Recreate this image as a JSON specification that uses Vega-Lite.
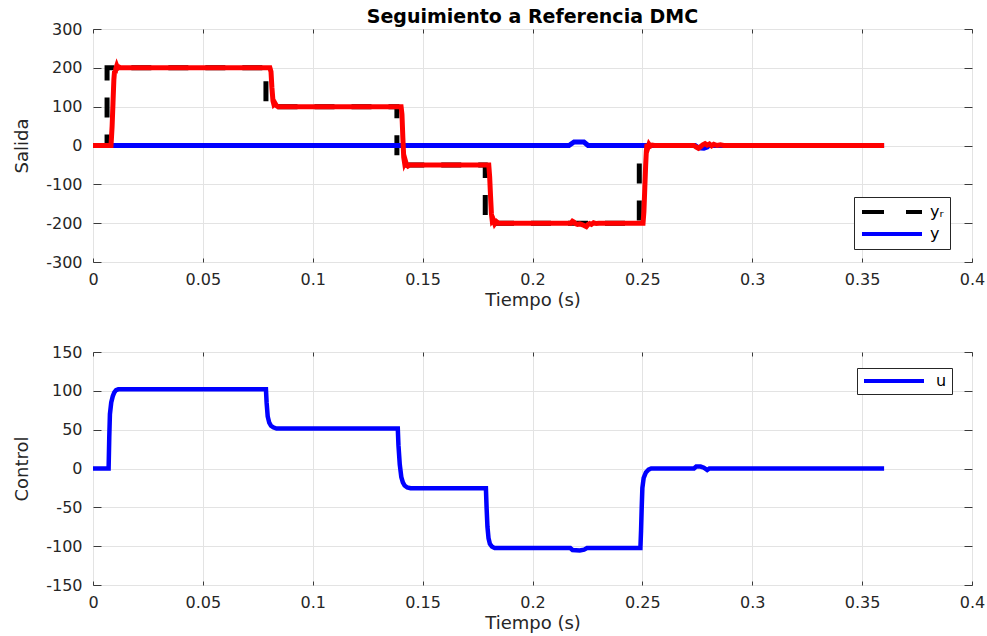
{
  "$schema": "https://vega.github.io/schema/vega-lite/v6.json",
  "background": "white",
  "padding": {"left": 13, "top": 7, "right": 5, "bottom": 5},
  "bounds": "flush",
  "spacing": 90,
  "resolve": {"scale": {"color": "independent"}, "legend": {"color": "independent"}},
  "config": {
    "font": "DejaVu Sans",
    "view": {"stroke": "#3a3a3a", "strokeWidth": 1},
    "axis": {
      "labelFont": "DejaVu Sans", "labelFontSize": 16, "labelColor": "#262626",
      "titleFont": "DejaVu Sans", "titleFontSize": 18, "titleFontWeight": "normal", "titleColor": "#262626",
      "gridColor": "#e3e3e3", "gridWidth": 1, "domain": false, "labelFlush": false,
      "tickColor": "#3a3a3a", "tickWidth": 1
    }
  },
  "datasets": {
    "salida": [
      {"t": 0, "v": 0, "s": "yr"}, {"t": 0.0064, "v": 0, "s": "yr"}, {"t": 0.0064, "v": 200, "s": "yr"},
      {"t": 0.0787, "v": 200, "s": "yr"}, {"t": 0.0787, "v": 100, "s": "yr"},
      {"t": 0.1383, "v": 100, "s": "yr"}, {"t": 0.1383, "v": -50, "s": "yr"},
      {"t": 0.1785, "v": -50, "s": "yr"}, {"t": 0.1785, "v": -200, "s": "yr"},
      {"t": 0.2486, "v": -200, "s": "yr"}, {"t": 0.2486, "v": 0, "s": "yr"}, {"t": 0.36, "v": 0, "s": "yr"},

      {"t": 0, "v": 0, "s": "y"}, {"t": 0.2166, "v": 0, "s": "y"}, {"t": 0.2189, "v": 9, "s": "y"},
      {"t": 0.2234, "v": 9, "s": "y"}, {"t": 0.2253, "v": 0, "s": "y"}, {"t": 0.274, "v": 0, "s": "y"},
      {"t": 0.2755, "v": -6, "s": "y"}, {"t": 0.278, "v": -7, "s": "y"}, {"t": 0.2795, "v": -4, "s": "y"},
      {"t": 0.2803, "v": 0, "s": "y"}, {"t": 0.36, "v": 0, "s": "y"},

      {"t": 0, "v": 0, "s": "ym"}, {"t": 0.0082, "v": 0, "s": "ym"}, {"t": 0.0087, "v": 50, "s": "ym"},
      {"t": 0.0091, "v": 110, "s": "ym"}, {"t": 0.0095, "v": 170, "s": "ym"}, {"t": 0.0098, "v": 192, "s": "ym"},
      {"t": 0.0101, "v": 186, "s": "ym"}, {"t": 0.0104, "v": 198, "s": "ym"}, {"t": 0.0108, "v": 205, "s": "ym"},
      {"t": 0.0112, "v": 199, "s": "ym"}, {"t": 0.0118, "v": 202, "s": "ym"}, {"t": 0.0125, "v": 200, "s": "ym"},
      {"t": 0.0805, "v": 200, "s": "ym"}, {"t": 0.081, "v": 190, "s": "ym"}, {"t": 0.0814, "v": 150, "s": "ym"},
      {"t": 0.0819, "v": 115, "s": "ym"}, {"t": 0.0823, "v": 106, "s": "ym"}, {"t": 0.0828, "v": 109, "s": "ym"},
      {"t": 0.0834, "v": 103, "s": "ym"}, {"t": 0.0842, "v": 100, "s": "ym"},
      {"t": 0.1402, "v": 100, "s": "ym"}, {"t": 0.1406, "v": 80, "s": "ym"}, {"t": 0.141, "v": 20, "s": "ym"},
      {"t": 0.1414, "v": -30, "s": "ym"}, {"t": 0.1418, "v": -45, "s": "ym"}, {"t": 0.1422, "v": -40, "s": "ym"},
      {"t": 0.1427, "v": -50, "s": "ym"}, {"t": 0.1433, "v": -53, "s": "ym"}, {"t": 0.1442, "v": -50, "s": "ym"},
      {"t": 0.1801, "v": -50, "s": "ym"}, {"t": 0.1805, "v": -80, "s": "ym"}, {"t": 0.1809, "v": -130, "s": "ym"},
      {"t": 0.1813, "v": -175, "s": "ym"}, {"t": 0.1817, "v": -195, "s": "ym"}, {"t": 0.1822, "v": -192, "s": "ym"},
      {"t": 0.1828, "v": -202, "s": "ym"}, {"t": 0.1836, "v": -196, "s": "ym"}, {"t": 0.1845, "v": -200, "s": "ym"},
      {"t": 0.2175, "v": -200, "s": "ym"}, {"t": 0.2182, "v": -195, "s": "ym"}, {"t": 0.2188, "v": -197, "s": "ym"},
      {"t": 0.2195, "v": -201, "s": "ym"}, {"t": 0.2205, "v": -203, "s": "ym"}, {"t": 0.2215, "v": -202, "s": "ym"},
      {"t": 0.2225, "v": -204, "s": "ym"}, {"t": 0.2235, "v": -206, "s": "ym"}, {"t": 0.2245, "v": -209, "s": "ym"},
      {"t": 0.2252, "v": -204, "s": "ym"}, {"t": 0.226, "v": -201, "s": "ym"}, {"t": 0.2268, "v": -203, "s": "ym"},
      {"t": 0.2278, "v": -199, "s": "ym"}, {"t": 0.229, "v": -201, "s": "ym"}, {"t": 0.2302, "v": -200, "s": "ym"},
      {"t": 0.2503, "v": -200, "s": "ym"}, {"t": 0.2507, "v": -170, "s": "ym"}, {"t": 0.2511, "v": -110, "s": "ym"},
      {"t": 0.2515, "v": -50, "s": "ym"}, {"t": 0.2518, "v": -15, "s": "ym"}, {"t": 0.2521, "v": 4, "s": "ym"},
      {"t": 0.2525, "v": -6, "s": "ym"}, {"t": 0.253, "v": 3, "s": "ym"}, {"t": 0.2536, "v": -2, "s": "ym"},
      {"t": 0.2545, "v": 1, "s": "ym"}, {"t": 0.2555, "v": 0, "s": "ym"}, {"t": 0.2735, "v": 0, "s": "ym"},
      {"t": 0.2745, "v": -4, "s": "ym"}, {"t": 0.2755, "v": -7, "s": "ym"}, {"t": 0.2765, "v": -3, "s": "ym"},
      {"t": 0.2775, "v": 2, "s": "ym"}, {"t": 0.2785, "v": 5, "s": "ym"}, {"t": 0.2795, "v": 1, "s": "ym"},
      {"t": 0.2805, "v": 4, "s": "ym"}, {"t": 0.2815, "v": -1, "s": "ym"}, {"t": 0.2825, "v": 3, "s": "ym"},
      {"t": 0.284, "v": 0, "s": "ym"}, {"t": 0.2855, "v": 2, "s": "ym"}, {"t": 0.287, "v": 0, "s": "ym"},
      {"t": 0.36, "v": 0, "s": "ym"}
    ],
    "control": [
      {"t": 0, "u": 0, "s": "u"}, {"t": 0.0071, "u": 0, "s": "u"}, {"t": 0.0074, "u": 40, "s": "u"},
      {"t": 0.0077, "u": 70, "s": "u"}, {"t": 0.0083, "u": 85, "s": "u"}, {"t": 0.009, "u": 93, "s": "u"},
      {"t": 0.0097, "u": 98, "s": "u"}, {"t": 0.0105, "u": 101, "s": "u"}, {"t": 0.0115, "u": 102, "s": "u"},
      {"t": 0.0787, "u": 102, "s": "u"}, {"t": 0.079, "u": 85, "s": "u"}, {"t": 0.0795, "u": 67, "s": "u"},
      {"t": 0.0802, "u": 59, "s": "u"}, {"t": 0.081, "u": 55, "s": "u"}, {"t": 0.082, "u": 53, "s": "u"},
      {"t": 0.0835, "u": 51.5, "s": "u"}, {"t": 0.1387, "u": 51.5, "s": "u"}, {"t": 0.139, "u": 30, "s": "u"},
      {"t": 0.1396, "u": 5, "s": "u"}, {"t": 0.1403, "u": -11, "s": "u"}, {"t": 0.141, "u": -18, "s": "u"},
      {"t": 0.1418, "u": -22, "s": "u"}, {"t": 0.143, "u": -24.5, "s": "u"}, {"t": 0.1445, "u": -25.5, "s": "u"},
      {"t": 0.1788, "u": -25.5, "s": "u"}, {"t": 0.1791, "u": -50, "s": "u"}, {"t": 0.1795, "u": -75, "s": "u"},
      {"t": 0.18, "u": -90, "s": "u"}, {"t": 0.1806, "u": -97, "s": "u"}, {"t": 0.1815, "u": -100.5, "s": "u"},
      {"t": 0.1828, "u": -102.5, "s": "u"}, {"t": 0.2172, "u": -102.5, "s": "u"}, {"t": 0.2182, "u": -105, "s": "u"},
      {"t": 0.2215, "u": -105.5, "s": "u"}, {"t": 0.2235, "u": -104.5, "s": "u"}, {"t": 0.2248, "u": -102.5, "s": "u"},
      {"t": 0.2491, "u": -102.5, "s": "u"}, {"t": 0.2494, "u": -80, "s": "u"}, {"t": 0.2497, "u": -50, "s": "u"},
      {"t": 0.25, "u": -25, "s": "u"}, {"t": 0.2506, "u": -12, "s": "u"}, {"t": 0.2516, "u": -5, "s": "u"},
      {"t": 0.2528, "u": -1.5, "s": "u"}, {"t": 0.254, "u": 0, "s": "u"}, {"t": 0.2735, "u": 0, "s": "u"},
      {"t": 0.2745, "u": 2.5, "s": "u"}, {"t": 0.2765, "u": 2.5, "s": "u"}, {"t": 0.278, "u": 1, "s": "u"},
      {"t": 0.2795, "u": -2, "s": "u"}, {"t": 0.2805, "u": 0, "s": "u"}, {"t": 0.36, "u": 0, "s": "u"}
    ]
  },
  "vconcat": [
    {
      "width": 879, "height": 233,
      "title": {"text": "Seguimiento a Referencia DMC", "font": "DejaVu Sans", "fontSize": 19, "fontWeight": "bold", "color": "#000000", "anchor": "middle", "offset": -6},
      "data": {"name": "salida"},
      "layer": [
        {
          "transform": [{"filter": "datum.s === 'yr'"}],
          "mark": {"type": "line", "strokeWidth": 5, "strokeDash": [20, 17], "strokeDashOffset": 32},
          "encoding": {
            "x": {"field": "t", "type": "quantitative", "scale": {"domain": [0, 0.4], "nice": false},
                  "axis": {"orient": "bottom", "title": "Tiempo (s)", "values": [0, 0.05, 0.1, 0.15, 0.2, 0.25, 0.3, 0.35, 0.4], "labelExpr": "'' + datum.value", "tickSize": -4, "labelPadding": 13, "titlePadding": 4, "grid": true}},
            "y": {"field": "v", "type": "quantitative", "scale": {"domain": [-300, 300], "nice": false},
                  "axis": {"orient": "left", "title": "Salida", "values": [-300, -200, -100, 0, 100, 200, 300], "labelExpr": "'' + datum.value", "tickSize": -8, "labelPadding": 19, "titlePadding": 14, "grid": true}},
            "order": {"value": null},
            "color": {"field": "s", "type": "nominal", "scale": {"domain": ["yr", "y", "ym"], "range": ["#000000", "#0000ff", "#ff0000"]},
                      "legend": {"orient": "none", "legendX": 761, "legendY": 168, "title": null, "values": ["yr", "y"], "labelExpr": "datum.value === 'yr' ? 'yᵣ' : datum.value", "symbolType": "stroke", "symbolSize": 3600, "symbolStrokeWidth": 4, "clipHeight": 18, "rowPadding": 4, "labelFont": "DejaVu Sans", "labelFontSize": 16, "labelColor": "#000000", "strokeColor": "#262626", "fillColor": "white", "padding": 6, "labelOffset": 6,
                                 "encode": {"symbols": {"update": {"strokeDash": {"signal": "datum.value === 'yr' ? [22, 22] : [1, 0]"}}}}}}
          }
        },
        {
          "transform": [{"filter": "datum.s === 'y'"}],
          "mark": {"type": "line", "strokeWidth": 5},
          "encoding": {
            "x": {"field": "t", "type": "quantitative", "axis": null},
            "y": {"field": "v", "type": "quantitative", "axis": null},
            "order": {"value": null},
            "color": {"field": "s", "type": "nominal"}
          }
        },
        {
          "transform": [{"filter": "datum.s === 'ym'"}],
          "mark": {"type": "line", "strokeWidth": 5},
          "encoding": {
            "x": {"field": "t", "type": "quantitative", "axis": null},
            "y": {"field": "v", "type": "quantitative", "axis": null},
            "order": {"value": null},
            "color": {"field": "s", "type": "nominal"}
          }
        },
        {
          "transform": [{"filter": "datum.s === 'yr'"}],
          "mark": {"type": "line", "opacity": 0},
          "encoding": {
            "x": {"field": "t", "type": "quantitative", "axis": {"orient": "top", "title": null, "labels": false, "grid": false, "tickSize": -4, "values": [0, 0.05, 0.1, 0.15, 0.2, 0.25, 0.3, 0.35, 0.4]}},
            "y": {"field": "v", "type": "quantitative", "axis": {"orient": "right", "title": null, "labels": false, "grid": false, "tickSize": -8, "values": [-300, -200, -100, 0, 100, 200, 300]}},
            "order": {"value": null}
          }
        }
      ],
      "resolve": {"axis": {"x": "independent", "y": "independent"}}
    },
    {
      "width": 879, "height": 233,
      "data": {"name": "control"},
      "layer": [
        {
          "mark": {"type": "line", "strokeWidth": 4.5},
          "encoding": {
            "x": {"field": "t", "type": "quantitative", "scale": {"domain": [0, 0.4], "nice": false},
                  "axis": {"orient": "bottom", "title": "Tiempo (s)", "values": [0, 0.05, 0.1, 0.15, 0.2, 0.25, 0.3, 0.35, 0.4], "labelExpr": "'' + datum.value", "tickSize": -4, "labelPadding": 13, "titlePadding": 4, "grid": true}},
            "y": {"field": "u", "type": "quantitative", "scale": {"domain": [-150, 150], "nice": false},
                  "axis": {"orient": "left", "title": "Control", "values": [-150, -100, -50, 0, 50, 100, 150], "labelExpr": "'' + datum.value", "tickSize": -8, "labelPadding": 19, "titlePadding": 14, "grid": true}},
            "order": {"value": null},
            "color": {"field": "s", "type": "nominal", "scale": {"domain": ["u"], "range": ["#0000ff"]},
                      "legend": {"orient": "none", "legendX": 764, "legendY": 16, "title": null, "symbolType": "stroke", "symbolSize": 3600, "symbolStrokeWidth": 4, "clipHeight": 16, "labelFont": "DejaVu Sans", "labelFontSize": 16, "labelColor": "#000000", "strokeColor": "#262626", "fillColor": "white", "padding": 5, "labelOffset": 10}}
          }
        },
        {
          "mark": {"type": "line", "opacity": 0},
          "encoding": {
            "x": {"field": "t", "type": "quantitative", "axis": {"orient": "top", "title": null, "labels": false, "grid": false, "tickSize": -4, "values": [0, 0.05, 0.1, 0.15, 0.2, 0.25, 0.3, 0.35, 0.4]}},
            "y": {"field": "u", "type": "quantitative", "axis": {"orient": "right", "title": null, "labels": false, "grid": false, "tickSize": -8, "values": [-150, -100, -50, 0, 50, 100, 150]}},
            "order": {"value": null}
          }
        }
      ],
      "resolve": {"axis": {"x": "independent", "y": "independent"}}
    }
  ]
}
